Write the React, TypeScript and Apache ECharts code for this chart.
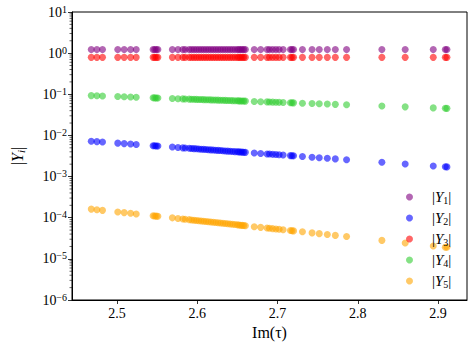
import React, { useEffect, useRef } from 'react';
import * as echarts from 'echarts';

const imTau = [
  2.468, 2.475, 2.482, 2.501, 2.509, 2.517, 2.524, 2.545, 2.547, 2.549, 2.551,
  2.569, 2.576, 2.582, 2.585, 2.590, 2.593, 2.596, 2.599, 2.602, 2.605,
  2.608, 2.611, 2.614, 2.617, 2.620, 2.623, 2.626, 2.629, 2.632, 2.635,
  2.638, 2.641, 2.644, 2.647, 2.650, 2.652, 2.654, 2.656, 2.658, 2.660,
  2.671, 2.679, 2.687, 2.690, 2.694, 2.698, 2.702, 2.707, 2.716, 2.718, 2.720,
  2.731, 2.743, 2.752, 2.762, 2.772, 2.786, 2.830, 2.859, 2.894, 2.909, 2.911,
];

const absY1 = [
  1.22, 1.22, 1.22, 1.22, 1.22, 1.22, 1.22, 1.22, 1.22, 1.22, 1.22,
  1.22, 1.22, 1.22, 1.22, 1.22, 1.22, 1.22, 1.22, 1.22, 1.22,
  1.22, 1.22, 1.22, 1.22, 1.22, 1.22, 1.22, 1.22, 1.22, 1.22,
  1.22, 1.22, 1.22, 1.22, 1.22, 1.22, 1.22, 1.22, 1.22, 1.22,
  1.22, 1.22, 1.22, 1.22, 1.22, 1.22, 1.22, 1.22, 1.22, 1.22, 1.22,
  1.22, 1.22, 1.22, 1.22, 1.22, 1.22, 1.22, 1.22, 1.22, 1.22, 1.22,
];

const absY2 = [
  7.23e-3, 7.07e-3, 6.91e-3, 6.50e-3, 6.33e-3, 6.17e-3, 6.03e-3, 5.63e-3, 5.60e-3, 5.56e-3, 5.52e-3,
  5.21e-3, 5.09e-3, 4.99e-3, 4.95e-3, 4.87e-3, 4.82e-3, 4.77e-3, 4.73e-3, 4.68e-3, 4.63e-3,
  4.59e-3, 4.54e-3, 4.50e-3, 4.46e-3, 4.41e-3, 4.37e-3, 4.33e-3, 4.29e-3, 4.24e-3, 4.20e-3,
  4.16e-3, 4.12e-3, 4.08e-3, 4.04e-3, 4.00e-3, 3.98e-3, 3.95e-3, 3.93e-3, 3.90e-3, 3.88e-3,
  3.74e-3, 3.64e-3, 3.55e-3, 3.52e-3, 3.47e-3, 3.43e-3, 3.38e-3, 3.33e-3, 3.23e-3, 3.21e-3, 3.19e-3,
  3.08e-3, 2.96e-3, 2.88e-3, 2.78e-3, 2.69e-3, 2.57e-3, 2.23e-3, 2.03e-3, 1.81e-3, 1.73e-3, 1.72e-3,
];

const absY3 = [
  0.79, 0.79, 0.79, 0.79, 0.79, 0.79, 0.79, 0.79, 0.79, 0.79, 0.79,
  0.79, 0.79, 0.79, 0.79, 0.79, 0.79, 0.79, 0.79, 0.79, 0.79,
  0.79, 0.79, 0.79, 0.79, 0.79, 0.79, 0.79, 0.79, 0.79, 0.79,
  0.79, 0.79, 0.79, 0.79, 0.79, 0.79, 0.79, 0.79, 0.79, 0.79,
  0.79, 0.79, 0.79, 0.79, 0.79, 0.79, 0.79, 0.79, 0.79, 0.79, 0.79,
  0.79, 0.79, 0.79, 0.79, 0.79, 0.79, 0.79, 0.79, 0.79, 0.79, 0.79,
];

const absY4 = [
  0.0929, 0.0919, 0.0908, 0.0881, 0.0870, 0.0858, 0.0849, 0.0821, 0.0818, 0.0815, 0.0813,
  0.0789, 0.0781, 0.0773, 0.0769, 0.0763, 0.0759, 0.0756, 0.0752, 0.0749, 0.0745,
  0.0741, 0.0738, 0.0734, 0.0731, 0.0727, 0.0724, 0.0720, 0.0717, 0.0713, 0.0710,
  0.0707, 0.0703, 0.0700, 0.0697, 0.0693, 0.0691, 0.0689, 0.0687, 0.0684, 0.0682,
  0.0670, 0.0661, 0.0653, 0.0650, 0.0645, 0.0641, 0.0637, 0.0632, 0.0623, 0.0621, 0.0619,
  0.0608, 0.0596, 0.0588, 0.0578, 0.0569, 0.0556, 0.0518, 0.0495, 0.0467, 0.0456, 0.0455,
];

const absY5 = [
  1.62e-4, 1.56e-4, 1.51e-4, 1.38e-4, 1.33e-4, 1.28e-4, 1.23e-4, 1.115e-4, 1.105e-4, 1.094e-4, 1.083e-4,
  9.93e-5, 9.60e-5, 9.32e-5, 9.19e-5, 8.97e-5, 8.84e-5, 8.71e-5, 8.59e-5, 8.46e-5, 8.34e-5,
  8.22e-5, 8.10e-5, 7.99e-5, 7.87e-5, 7.76e-5, 7.65e-5, 7.54e-5, 7.43e-5, 7.32e-5, 7.22e-5,
  7.11e-5, 7.01e-5, 6.91e-5, 6.81e-5, 6.71e-5, 6.65e-5, 6.58e-5, 6.52e-5, 6.46e-5, 6.39e-5,
  6.06e-5, 5.83e-5, 5.61e-5, 5.53e-5, 5.42e-5, 5.32e-5, 5.22e-5, 5.09e-5, 4.88e-5, 4.83e-5, 4.78e-5,
  4.54e-5, 4.28e-5, 4.10e-5, 3.90e-5, 3.72e-5, 3.48e-5, 2.81e-5, 2.44e-5, 2.06e-5, 1.92e-5, 1.91e-5,
];

const seriesNames = ['Y1', 'Y2', 'Y3', 'Y4', 'Y5'];
const seriesSubs = ['1', '2', '3', '4', '5'];
const seriesValues = [absY1, absY2, absY3, absY4, absY5];
const seriesColors = ['#800080', '#0000ff', '#ff0000', '#32cd32', '#ffa500'];

const xTicks = [2.5, 2.6, 2.7, 2.8, 2.9];
const xMin = 2.444;
const xMax = 2.936;
const yMin = 1e-6;
const yMax = 10;
const yMinorTicks: number[] = [
  2e-6, 3e-6, 4e-6, 5e-6, 6e-6, 7e-6, 8e-6, 9e-6,
  2e-5, 3e-5, 4e-5, 5e-5, 6e-5, 7e-5, 8e-5, 9e-5,
  2e-4, 3e-4, 4e-4, 5e-4, 6e-4, 7e-4, 8e-4, 9e-4,
  2e-3, 3e-3, 4e-3, 5e-3, 6e-3, 7e-3, 8e-3, 9e-3,
  2e-2, 3e-2, 4e-2, 5e-2, 6e-2, 7e-2, 8e-2, 9e-2,
  2e-1, 3e-1, 4e-1, 5e-1, 6e-1, 7e-1, 8e-1, 9e-1,
  2, 3, 4, 5, 6, 7, 8, 9,
];

const FONT = "'Liberation Serif', 'DejaVu Serif', serif";

export default function App() {
  const ref = useRef<HTMLDivElement>(null);
  useEffect(() => {
    const chart = echarts.init(ref.current!, null, { renderer: 'svg' });
    const scatterSeries = seriesNames.map((name, k) => ({
      name,
      type: 'scatter',
      data: imTau.map((x, i) => [x, seriesValues[k][i]]),
      symbol: 'circle',
      symbolSize: 7,
      itemStyle: { color: seriesColors[k], opacity: 0.6 },
      z: 3,
    }));
    const option: any = {
      animation: false,
      grid: {
        left: 66,
        right: 6,
        top: 12,
        bottom: 47,
        show: true,
        borderColor: '#000',
        borderWidth: 1,
        backgroundColor: 'transparent',
      },
      legend: {
        data: seriesNames,
        orient: 'vertical',
        left: 401,
        top: 184,
        itemWidth: 7,
        itemHeight: 7,
        itemGap: 5,
        icon: 'circle',
        textStyle: {
          fontFamily: FONT,
          fontSize: 15,
          color: '#000',
          lineHeight: 16,
          rich: {
            g: { width: 14, fontSize: 15, lineHeight: 16 },
            i: { fontStyle: 'italic', fontFamily: FONT, fontSize: 15, lineHeight: 16 },
            s: { fontFamily: FONT, fontSize: 10, lineHeight: 9, verticalAlign: 'bottom' },
          },
        },
        formatter: (name: string) => {
          const k = seriesNames.indexOf(name);
          return `{g|}|{i|Y}{s|${seriesSubs[k]}}|`;
        },
      },
      xAxis: {
        type: 'value',
        min: xMin,
        max: xMax,
        name: 'Im(τ)',
        nameLocation: 'middle',
        nameGap: 23,
        nameTextStyle: { fontFamily: FONT, fontSize: 16, color: '#000' },
        splitLine: { show: false },
        axisLine: { show: true, lineStyle: { color: '#000', width: 1 } },
        axisTick: {
          show: true,
          inside: false,
          length: 4,
          lineStyle: { color: '#000', width: 0.8 },
          customValues: xTicks,
        },
        axisLabel: {
          fontFamily: FONT,
          fontSize: 14,
          color: '#000',
          margin: 6,
          customValues: xTicks,
          formatter: (v: number) => v.toFixed(1),
        },
      },
      yAxis: {
        type: 'log',
        logBase: 10,
        min: yMin,
        max: yMax,
        interval: 1,
        name: '|{i|Y}{s|i}|',
        nameLocation: 'middle',
        nameRotate: 90,
        nameGap: 46,
        nameTextStyle: {
          fontFamily: FONT,
          fontSize: 16,
          color: '#000',
          lineHeight: 18,
          rich: {
            i: { fontStyle: 'italic', fontFamily: FONT, fontSize: 16, lineHeight: 18 },
            s: { fontStyle: 'italic', fontFamily: FONT, fontSize: 11, lineHeight: 10, verticalAlign: 'bottom' },
          },
        },
        splitLine: { show: false },
        minorTick: { show: false },
        axisLine: { show: true, lineStyle: { color: '#000', width: 1 } },
        axisTick: { show: true, inside: false, length: 4, lineStyle: { color: '#000', width: 0.8 } },
        axisLabel: {
          fontFamily: FONT,
          fontSize: 14,
          color: '#000',
          margin: 5,
          lineHeight: 16,
          formatter: (v: number) => {
            const e = Math.round(Math.log10(v));
            const s = e < 0 ? '−' + -e : String(e);
            return `{m|10}{sup|${s}}`;
          },
          rich: {
            m: { fontFamily: FONT, fontSize: 14, lineHeight: 16, color: '#000' },
            sup: { fontFamily: FONT, fontSize: 10, lineHeight: 10, verticalAlign: 'top', color: '#000' },
          },
        },
      },
      series: [
        ...scatterSeries,
        {
          type: 'custom',
          name: 'minorTicks',
          silent: true,
          clip: false,
          data: yMinorTicks.map((v) => [xMin, v]),
          renderItem: (params: any, api: any) => {
            const p = api.coord([api.value(0), api.value(1)]);
            return {
              type: 'line',
              shape: { x1: p[0] - 2.5, y1: p[1], x2: p[0], y2: p[1] },
              style: { stroke: '#000', lineWidth: 0.6 },
            };
          },
          z: 5,
        },
      ],
    };
    chart.setOption(option);
    return () => chart.dispose();
  }, []);
  return (
    <div
      ref={ref}
      style={{ position: 'absolute', left: 0, top: 0, width: 473, height: 347, background: '#fff' }}
    />
  );
}
